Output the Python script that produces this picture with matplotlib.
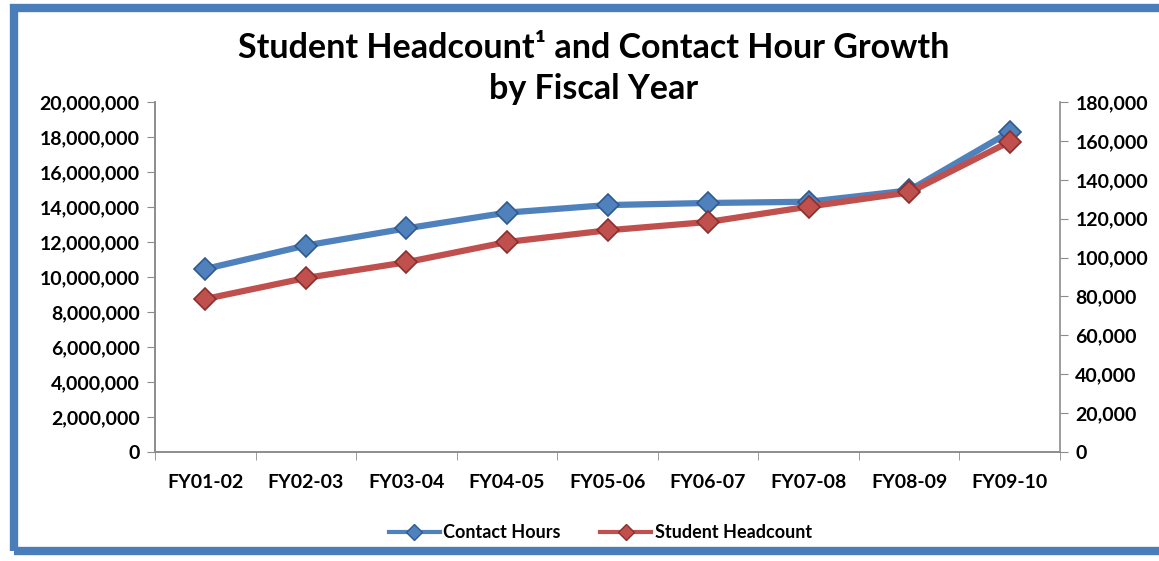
import numpy as np
import matplotlib
matplotlib.use("Agg")
import matplotlib.pyplot as plt
from matplotlib.patches import Rectangle
from matplotlib.ticker import FuncFormatter, MultipleLocator
from matplotlib.lines import Line2D

# ─── Data ────────────────────────────────────────────────────────
years = ["FY01-02", "FY02-03", "FY03-04", "FY04-05", "FY05-06",
         "FY06-07", "FY07-08", "FY08-09", "FY09-10"]
contact_hours = [10460000, 11800000, 12780000, 13680000, 14110000,
                 14230000, 14300000, 14950000, 18290000]
headcount = [78700, 89500, 97600, 108000, 114000,
             118300, 126200, 133500, 159600]

BLUE = "#4f81bd"
BLUE_DK = "#2f5a8f"
RED = "#c0504d"
RED_DK = "#8c2f2c"
AXIS = "#8c8c8c"

plt.rcParams["font.family"] = ["Lato", "DejaVu Sans"]
plt.rcParams["font.weight"] = "bold"

fig = plt.figure(figsize=(11.59, 5.61), dpi=100)
ax = fig.add_axes([155 / 1159, 1 - 452 / 561, 905 / 1159, 350 / 561])
ax2 = ax.twinx()

x = np.arange(len(years))
ax.plot(x, contact_hours, color=BLUE, lw=4.5, marker="D", ms=11,
        mfc=BLUE, mec=BLUE_DK, mew=1.2, solid_capstyle="round")
ax2.plot(x, headcount, color=RED, lw=4.5, marker="D", ms=11,
         mfc=RED, mec=RED_DK, mew=1.2, solid_capstyle="round")

ax.set_xlim(-0.5, len(years) - 0.5)
ax.set_ylim(0, 20000000)
ax2.set_ylim(0, 180000)
ax.yaxis.set_major_locator(MultipleLocator(2000000))
ax2.yaxis.set_major_locator(MultipleLocator(20000))
fmt = FuncFormatter(lambda v, p: f"{int(v):,}")
ax.yaxis.set_major_formatter(fmt)
ax2.yaxis.set_major_formatter(fmt)

ax.set_xticks(x)
ax.set_xticklabels(years)
ax.set_xticks(np.arange(-0.5, len(years)), minor=True)
ax.tick_params(axis="x", which="major", length=0, pad=16, labelsize=14)
ax.tick_params(axis="x", which="minor", length=6, color=AXIS, direction="out")
ax.tick_params(axis="y", length=6, color=AXIS, labelsize=14, pad=5)
ax2.tick_params(axis="y", length=6, color=AXIS, labelsize=14, pad=5)

for a in (ax, ax2):
    a.spines["top"].set_visible(False)
    for s in ("left", "right", "bottom"):
        a.spines[s].set_color(AXIS)
        a.spines[s].set_linewidth(1.2)
ax.spines["right"].set_visible(False)

fig.text(0.512, 1 - 48 / 561, "Student Headcount¹ and Contact Hour Growth",
         ha="center", va="center", fontsize=24.5, fontweight="bold")
fig.text(0.512, 1 - 89 / 561, "by Fiscal Year",
         ha="center", va="center", fontsize=24.5, fontweight="bold")

handles = [
    Line2D([], [], color=BLUE, lw=3, marker="D", ms=8, mfc=BLUE, mec=BLUE_DK),
    Line2D([], [], color=RED, lw=3, marker="D", ms=8, mfc=RED, mec=RED_DK),
]
fig.legend(handles, ["Contact Hours", "Student Headcount"], loc="center",
           bbox_to_anchor=(0.518, 1 - 533 / 561), ncol=2, frameon=False,
           fontsize=13, handlelength=2.8, handletextpad=0.2, columnspacing=2.2)

# blue frame around chart
fig.patches.append(Rectangle((14 / 1159, 1 - 551 / 561), 1.1, 543 / 561,
                             transform=fig.transFigure, fill=False,
                             edgecolor="#4a7ebb", lw=6, zorder=0))

fig.savefig("out.png", dpi=100)
